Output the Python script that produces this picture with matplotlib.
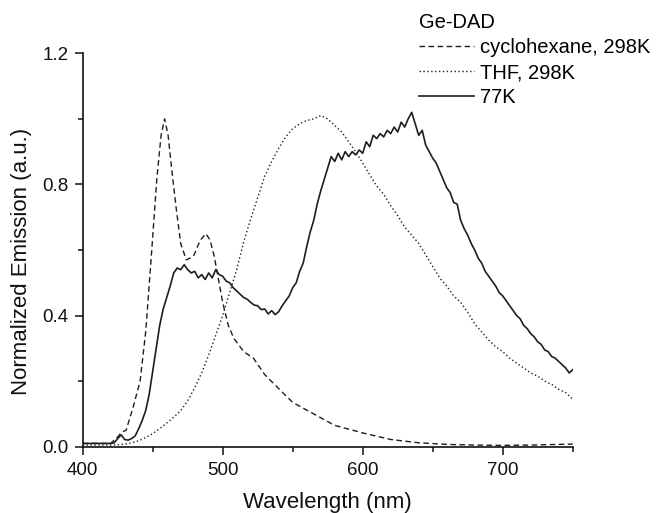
import numpy as np
import matplotlib
matplotlib.use("Agg")
import matplotlib.pyplot as plt
from matplotlib.ticker import MultipleLocator

plt.rcParams['font.family'] = ['Liberation Sans', 'DejaVu Sans']

# ---- data ----
wl_cyclo = [400, 410, 420, 425, 428, 431, 436, 441, 445, 449, 453, 456, 458.5, 461, 464, 467,
            470, 474, 479, 484, 488, 491, 494, 497, 500, 504, 508, 515, 522, 530, 541, 550,
            565, 580, 600, 620, 640, 660, 680, 700, 720, 740, 750]
em_cyclo = [0.010, 0.010, 0.010, 0.030, 0.045, 0.050, 0.120, 0.200, 0.350, 0.580, 0.820, 0.950,
            1.000, 0.950, 0.830, 0.720, 0.620, 0.570, 0.580, 0.630, 0.650, 0.630, 0.580, 0.510,
            0.440, 0.370, 0.330, 0.290, 0.270, 0.220, 0.173, 0.135, 0.100, 0.065, 0.042, 0.022,
            0.012, 0.007, 0.005, 0.004, 0.005, 0.007, 0.008]

wl_thf = [400, 405, 410, 415, 420, 425, 430, 435, 440, 445, 450, 455, 460, 465, 470, 475, 480,
          485, 490, 495, 500, 505, 510, 515, 520, 525, 530, 535, 540, 545, 550, 555, 560, 565,
          570, 575, 580, 585, 590, 595, 600, 605, 610, 615, 620, 625, 630, 635, 640, 645, 650,
          655, 660, 665, 670, 675, 680, 685, 690, 695, 700, 705, 710, 715, 720, 725, 730, 735,
          740, 745, 750]
em_thf = [0.005, 0.005, 0.005, 0.005, 0.005, 0.006, 0.008, 0.012, 0.018, 0.028, 0.040, 0.055,
          0.072, 0.090, 0.110, 0.140, 0.180, 0.225, 0.280, 0.340, 0.400, 0.470, 0.540, 0.625,
          0.695, 0.760, 0.825, 0.870, 0.910, 0.945, 0.970, 0.985, 0.995, 1.000, 1.010, 1.000,
          0.980, 0.960, 0.930, 0.900, 0.865, 0.830, 0.795, 0.770, 0.735, 0.705, 0.670, 0.645,
          0.620, 0.585, 0.550, 0.515, 0.490, 0.460, 0.440, 0.410, 0.375, 0.350, 0.325, 0.305,
          0.290, 0.270, 0.255, 0.240, 0.225, 0.215, 0.200, 0.190, 0.175, 0.165, 0.145]

wl_77k = [400, 420, 422.5, 425, 427.5, 430, 432.5, 435, 437.5, 440, 442.5, 445, 447.5, 450,
          452.5, 455, 457.5, 460, 462.5, 465, 467.5, 470, 472.5, 475, 477.5, 480, 482.5, 485,
          487.5, 490, 492.5, 495, 497.5, 500, 502.5, 505, 507.5, 510, 512.5, 515, 517.5, 520,
          522.5, 525, 527.5, 530, 532.5, 535, 537.5, 540, 542.5, 545, 547.5, 550, 552.5, 555,
          557.5, 560, 562.5, 565, 567.5, 570, 572.5, 575, 577.5, 580, 582.5, 585, 587.5, 590,
          592.5, 595, 597.5, 600, 602.5, 605, 607.5, 610, 612.5, 615, 617.5, 620, 622.5, 625,
          627.5, 630, 632.5, 635, 637.5, 640, 642.5, 645, 647.5, 650, 652.5, 655, 657.5, 660,
          662.5, 665, 667.5, 670, 672.5, 675, 677.5, 680, 682.5, 685, 687.5, 690, 692.5, 695,
          697.5, 700, 702.5, 705, 707.5, 710, 712.5, 715, 717.5, 720, 722.5, 725, 727.5, 730,
          732.5, 735, 737.5, 740, 742.5, 745, 747.5, 750]
em_77k = [0.010, 0.010, 0.012, 0.025, 0.036, 0.022, 0.020, 0.025, 0.033, 0.055, 0.080, 0.110,
          0.160, 0.230, 0.300, 0.370, 0.420, 0.455, 0.490, 0.530, 0.545, 0.540, 0.555, 0.540,
          0.530, 0.535, 0.515, 0.525, 0.510, 0.530, 0.515, 0.540, 0.525, 0.520, 0.505, 0.500,
          0.485, 0.475, 0.465, 0.455, 0.450, 0.440, 0.432, 0.430, 0.418, 0.420, 0.405, 0.415,
          0.403, 0.412, 0.430, 0.445, 0.460, 0.485, 0.500, 0.535, 0.560, 0.610, 0.655, 0.690,
          0.740, 0.780, 0.815, 0.850, 0.885, 0.870, 0.895, 0.875, 0.900, 0.885, 0.900, 0.890,
          0.905, 0.895, 0.930, 0.915, 0.950, 0.940, 0.955, 0.945, 0.965, 0.955, 0.975, 0.960,
          0.990, 0.975, 1.000, 1.020, 0.985, 0.950, 0.965, 0.920, 0.900, 0.880, 0.865, 0.840,
          0.815, 0.790, 0.775, 0.745, 0.740, 0.690, 0.665, 0.645, 0.620, 0.600, 0.575, 0.560,
          0.535, 0.520, 0.505, 0.490, 0.470, 0.460, 0.445, 0.430, 0.415, 0.400, 0.390, 0.370,
          0.360, 0.345, 0.335, 0.320, 0.312, 0.295, 0.290, 0.275, 0.270, 0.260, 0.250, 0.240,
          0.225, 0.235]

labels = ["cyclohexane, 298K", "THF, 298K", "77K"]
legend_title = "Ge-DAD"
xlabel = "Wavelength (nm)"
ylabel = "Normalized Emission (a.u.)"
xticks = [400, 500, 600, 700]
xticklabels = ["400", "500", "600", "700"]
yticks = [0.0, 0.4, 0.8, 1.2]
yticklabels = ["0.0", "0.4", "0.8", "1.2"]

# ---- figure ----
fig = plt.figure(figsize=(6.56, 5.13), dpi=100)
ax = fig.add_axes([82.7 / 656, 1 - 446.7 / 513, (572.7 - 82.7) / 656, (446.7 - 53.3) / 513])

c = '#1e1e1e'
l1, = ax.plot(wl_cyclo, em_cyclo, color=c, lw=1.0, linestyle=(0, (4, 2.5)), label=labels[0])
l2, = ax.plot(wl_thf, em_thf, color=c, lw=1.0, linestyle=(0, (1, 1.8)), label=labels[1])
l3, = ax.plot(wl_77k, em_77k, color=c, lw=1.2, linestyle='-', label=labels[2])

ax.set_xlim(400, 750)
ax.set_ylim(0, 1.2)
ax.set_xticks(xticks)
ax.set_xticklabels(xticklabels)
ax.set_yticks(yticks)
ax.set_yticklabels(yticklabels)
ax.xaxis.set_minor_locator(MultipleLocator(50))
ax.yaxis.set_minor_locator(MultipleLocator(0.2))

for s in ['top', 'right']:
    ax.spines[s].set_visible(False)
for s in ['left', 'bottom']:
    ax.spines[s].set_linewidth(1.2)
    ax.spines[s].set_color('#111111')

ax.tick_params(axis='both', which='major', direction='out', length=6, width=1.1,
               labelsize=13.5, colors='#111111')
ax.tick_params(axis='x', which='major', pad=5)
ax.tick_params(axis='y', which='major', pad=4)
ax.tick_params(axis='both', which='minor', direction='out', length=3.5, width=1.1, colors='#111111')

ax.set_xlabel(xlabel, fontsize=16, color='#111111')
ax.set_ylabel(ylabel, fontsize=16, color='#111111')
ax.xaxis.set_label_coords(0.5, -(508 - 446.7) / 393.4)
ax.xaxis.label.set_verticalalignment('baseline')
ax.yaxis.set_label_coords(-0.104, 0.47)

leg = fig.legend(handles=[l1, l2, l3], labels=labels, title=legend_title,
                 loc='upper left', bbox_to_anchor=(419 / 656, 1 - 13 / 513),
                 frameon=False, fontsize=14.5, title_fontsize=14.5, alignment='left',
                 handlelength=2.75, handletextpad=0.3, labelspacing=0.3,
                 borderpad=0, borderaxespad=0)

fig.savefig("out.png", dpi=100)
